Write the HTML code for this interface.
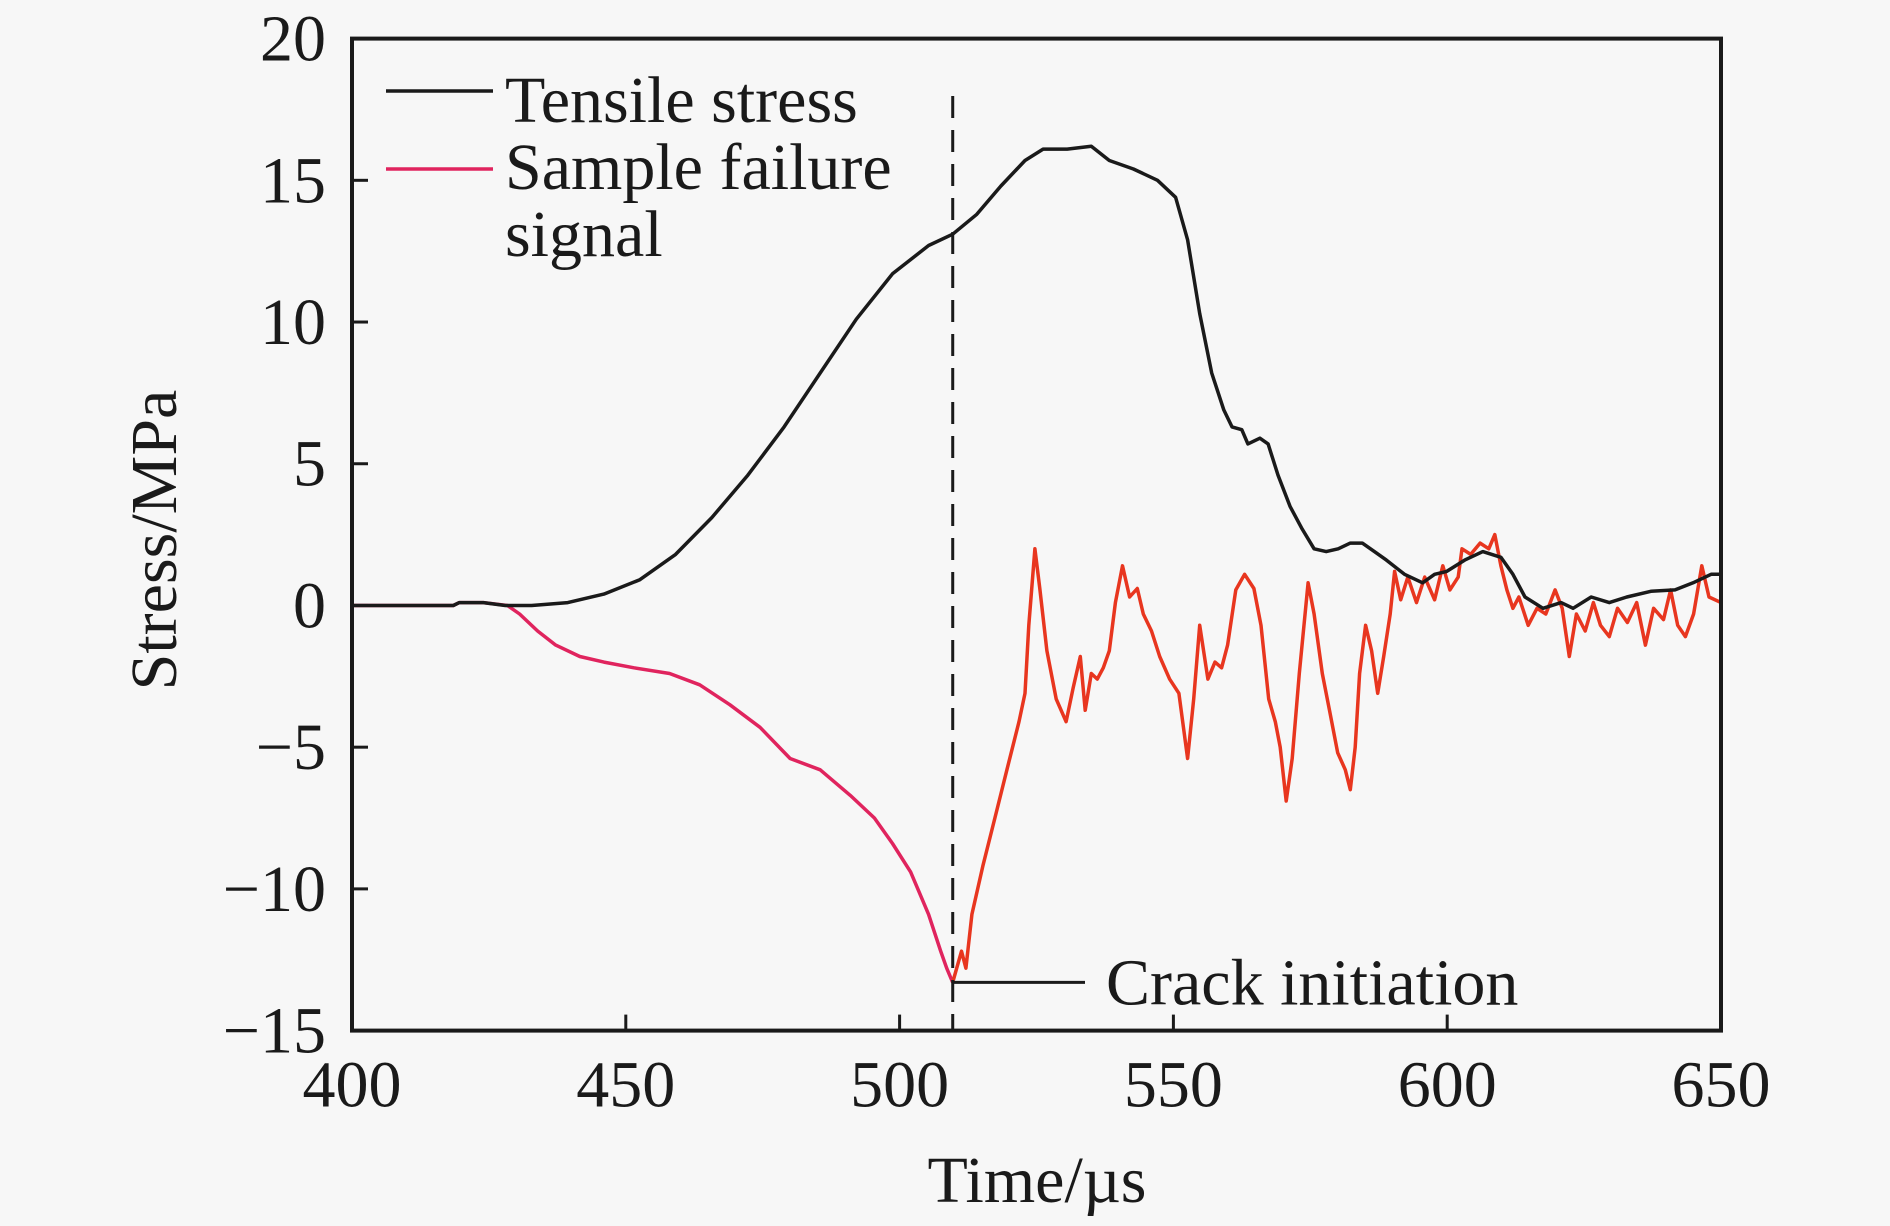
<!DOCTYPE html>
<html><head><meta charset="utf-8"><style>
html,body{margin:0;padding:0;background:#f7f7f7;}
svg{display:block;font-family:"Liberation Serif",serif;}
</style></head><body>
<svg id="chart" width="1890" height="1226" viewBox="0 0 1890 1226" xmlns="http://www.w3.org/2000/svg">
<rect x="0" y="0" width="1890" height="1226" fill="#f7f7f7"/>
<g id="plot"></g>
</svg>
<script>
const xTicks=[400,450,500,550,600,650];
const yTicks=[20,15,10,5,0,-5,-10,-15];
const blackX=[400,418.5,419.6,424,428,432.8,439.4,446,452.5,459.1,465.7,472.3,478.9,485.5,492.1,498.7,505.3,509.7,514.1,518.5,522.9,526.2,530.6,535,538.3,542.7,547.1,550.4,552.6,554.8,557,559.2,560.7,562.5,563.6,565.8,567.3,569.1,571.3,573.5,575.7,577.9,580.1,582.3,584.5,586.7,588.9,592.2,595.5,597.7,599.9,603.2,606.5,609.8,612,614.2,617.5,620.8,623,626.3,629.6,632.8,637.2,641.6,644.9,648.2,650];
const blackY=[0,0,0.1,0.1,0,0,0.1,0.4,0.9,1.8,3.1,4.6,6.3,8.2,10.1,11.7,12.7,13.1,13.8,14.8,15.7,16.1,16.1,16.2,15.7,15.4,15,14.4,12.9,10.3,8.2,6.9,6.3,6.2,5.7,5.9,5.7,4.6,3.5,2.7,2.0,1.9,2.0,2.2,2.2,1.9,1.6,1.1,0.8,1.1,1.2,1.6,1.9,1.7,1.1,0.3,-0.1,0.1,-0.1,0.3,0.1,0.3,0.5,0.55,0.8,1.1,1.1];
const redPreX=[400,418.5,419.6,424,428.4,430.6,433.9,437.2,441.6,446,451.5,458,463.5,469,474.5,480,485.5,491,495.4,498.7,502,505.3,507.5,508.6,509.7];
const redPreY=[0,0,0.1,0.1,0,-0.3,-0.9,-1.4,-1.8,-2,-2.2,-2.4,-2.8,-3.5,-4.3,-5.4,-5.8,-6.7,-7.5,-8.4,-9.4,-10.9,-12.2,-12.8,-13.3];
const redPostX=[509.7,511.3,512.1,513.2,515.2,517.4,519.6,521.8,522.9,523.6,524.7,525.6,526.9,528.6,530.4,531.7,533,533.9,535,536.1,537.2,538.3,539.4,540.7,542,543.4,544.5,546,547.5,549.3,551,552.6,553.7,554.8,556.3,557.6,558.8,559.9,561.4,563,564.7,566,567.4,568.6,569.5,570.6,571.7,573,574.6,575.7,577.2,578.5,580,581.4,582.3,583.2,584,585.1,586.2,587.3,588.4,589.6,590.4,591.5,592.8,594.4,595.9,597.7,599.2,600.5,602,602.7,604.3,606,607.6,608.7,609.8,610.9,612,613.1,614.8,616.4,618,619.7,621,622.3,623.6,625.2,626.7,628,629.6,631.1,632.9,634.6,636.2,637.7,639.5,640.8,642.1,643.5,645,646.5,647.8,650];
const redPostY=[-13.3,-12.2,-12.8,-10.9,-9.2,-7.5,-5.8,-4.1,-3.1,-0.7,2.0,0.6,-1.6,-3.3,-4.1,-2.9,-1.8,-3.7,-2.4,-2.6,-2.2,-1.6,0.1,1.4,0.3,0.6,-0.3,-0.9,-1.8,-2.6,-3.1,-5.4,-3.3,-0.7,-2.6,-2,-2.2,-1.4,0.55,1.1,0.6,-0.7,-3.3,-4.1,-5,-6.9,-5.4,-2.4,0.8,-0.3,-2.4,-3.7,-5.2,-5.8,-6.5,-5,-2.4,-0.7,-1.6,-3.1,-1.8,-0.3,1.2,0.2,1,0.1,1,0.2,1.4,0.55,1,2,1.8,2.2,2,2.5,1.4,0.55,-0.1,0.3,-0.7,-0.1,-0.3,0.55,-0.1,-1.8,-0.3,-0.9,0.1,-0.7,-1.1,-0.1,-0.6,0.1,-1.4,-0.1,-0.5,0.55,-0.7,-1.1,-0.3,1.4,0.3,0.1];
const crackX=509.7, crackY=-13.3;

const L=352,R=1721,T=38.6,B=1030.6;
const sx=v=>L+(v-400)/250*(R-L);
const sy=v=>T+(20-v)/35*(B-T);
const NS="http://www.w3.org/2000/svg";
const g=document.getElementById('plot');
function mk(tag,attrs,parent){const e=document.createElementNS(NS,tag);for(const k in attrs)e.setAttribute(k,attrs[k]);(parent||g).appendChild(e);return e;}
function txt(s,attrs){const e=mk('text',attrs);e.textContent=s;return e;}

function poly(xs,ys,color,name){
  const p=xs.map((x,i)=>sx(x).toFixed(1)+','+sy(ys[i]).toFixed(1)).join(' ');
  const e=mk('polyline',{points:p,fill:'none',stroke:color,'stroke-width':3.5,'stroke-linejoin':'round'});
  
  
}
poly(redPreX,redPreY,'#e0245e','failure-signal-line-pre');
poly(redPostX,redPostY,'#e8361f','failure-signal-line-post');
poly(blackX,blackY,'#1a1a1a','tensile-stress-line');

const dl=mk('line',{x1:sx(crackX),x2:sx(crackX),y1:96,y2:B,stroke:'#1a1a1a','stroke-width':3,'stroke-dasharray':'22,12'});


const al=mk('line',{x1:sx(crackX),x2:1085,y1:sy(crackY),y2:sy(crackY),stroke:'#1a1a1a','stroke-width':3});


const at=txt('Crack initiation',{x:1106,y:sy(crackY)+22,'font-size':66,fill:'#1a1a1a'});



const fr=mk('rect',{x:L,y:T,width:R-L,height:B-T,fill:'none',stroke:'#1a1a1a','stroke-width':4});



xTicks.forEach(v=>{
  const t=mk('line',{x1:sx(v),x2:sx(v),y1:B,y2:B-16,stroke:'#1a1a1a','stroke-width':3});
  
  
  const l=txt(String(v),{x:sx(v),y:B+76,'font-size':66,'text-anchor':'middle',fill:'#1a1a1a'});
  
  
});
yTicks.forEach(v=>{
  const t=mk('line',{x1:L,x2:L+16,y1:sy(v),y2:sy(v),stroke:'#1a1a1a','stroke-width':3});
  
  
  const l=txt(v<0?'\u2212'+Math.abs(v):String(v),{x:326,y:sy(v)+22,'font-size':66,'text-anchor':'end',fill:'#1a1a1a'});
  
  
});

const xt=txt('Time/\u00b5s',{x:1037,y:1202,'font-size':66,'text-anchor':'middle',fill:'#1a1a1a'});


const yt=txt('Stress/MPa',{x:0,y:0,'font-size':66,'text-anchor':'middle',fill:'#1a1a1a',transform:'translate(176,540) rotate(-90)'});



const l1=mk('line',{x1:386,x2:493,y1:91,y2:91,stroke:'#1a1a1a','stroke-width':3.5});


const lt1=txt('Tensile stress',{x:505,y:122,'font-size':66,fill:'#1a1a1a'});


const l2=mk('line',{x1:386,x2:493,y1:169,y2:169,stroke:'#e0245e','stroke-width':3.5});


const lt2=txt('Sample failure',{x:505,y:189,'font-size':66,fill:'#1a1a1a'});


const lt3=txt('signal',{x:505,y:256,'font-size':66,fill:'#1a1a1a'});


</script>
</body></html>
